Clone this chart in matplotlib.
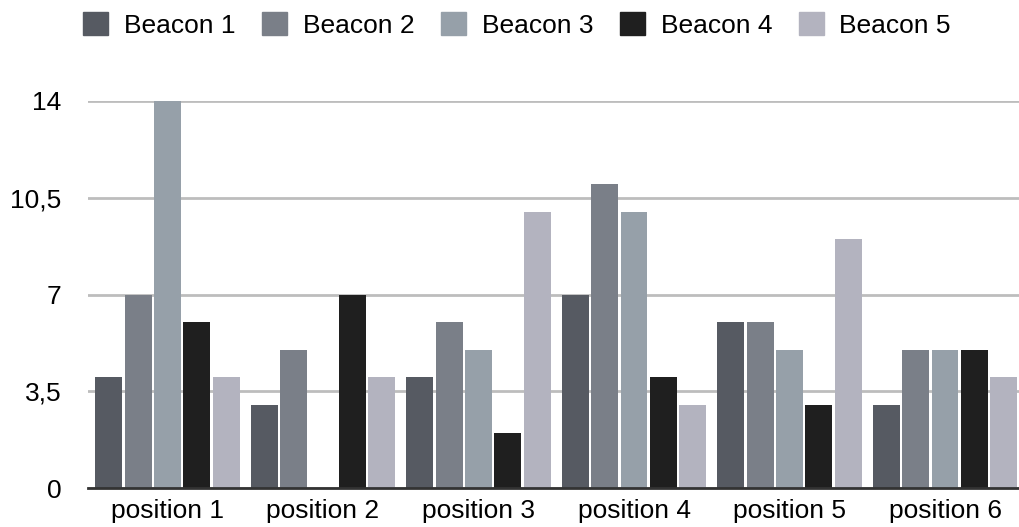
import numpy as np
from matplotlib import pyplot as plt
from matplotlib import patches

positions = ["position 1", "position 2", "position 3", "position 4", "position 5", "position 6"]
beacons = ["Beacon 1", "Beacon 2", "Beacon 3", "Beacon 4", "Beacon 5"]

beacon1 = [4, 3, 4, 7, 6, 3]
beacon2 = [7, 5, 6, 11, 6, 5]
beacon3 = [14, 0, 5, 10, 5, 5]
beacon4 = [6, 7, 2, 4, 3, 5]
beacon5 = [4, 4, 10, 3, 9, 4]

yticks = [0, 3.5, 7, 10.5, 14]
ytick_labels = ["0", "3,5", "7", "10,5", "14"]

colors = ["#565a62", "#7a7f88", "#96a0a9", "#1f1f1f", "#b3b3bf"]

plt.rcParams['font.family'] = ['Liberation Sans', 'DejaVu Sans']

fig = plt.figure(figsize=(10.2, 5.27), dpi=100)
ax = fig.add_axes([88/1020, 1 - 488/527, 932/1020, (488 - 101)/527])

x = np.arange(len(positions))
slot = 0.189
series = [beacon1, beacon2, beacon3, beacon4, beacon5]
for i, (vals, name, c) in enumerate(zip(series, beacons, colors)):
    ax.bar(x + (i - 2) * slot, vals, width=slot - 0.016, color=c, label=name, zorder=3)

ax.set_xlim(-0.511, 5.482)
ax.set_ylim(0, 14)
ax.set_yticks(yticks)
ax.set_yticklabels(ytick_labels)
ax.set_xticks(x)
ax.set_xticklabels(positions)
ax.tick_params(axis='both', length=0, labelsize=19, colors='black')
ax.tick_params(axis='y', pad=19)
ax.tick_params(axis='x', pad=8)
ax.grid(axis='y', color='#bdbdbd', linewidth=2, zorder=0)
ax.set_axisbelow(True)
for s in ['top', 'right', 'left']:
    ax.spines[s].set_visible(False)
ax.spines['bottom'].set_color('#333333')
ax.spines['bottom'].set_linewidth(2)
ax.spines['bottom'].set_zorder(4)

handles = [patches.Patch(color=c, label=n) for c, n in zip(colors, beacons)]
fig.legend(handles=handles, loc='center', bbox_to_anchor=(0.507, 1 - 25/527), ncol=5,
           frameon=False, fontsize=19, handlelength=0.95, handleheight=0.95,
           handletextpad=0.6, columnspacing=1.0, borderpad=0)

fig.savefig("out.png", dpi=100)
